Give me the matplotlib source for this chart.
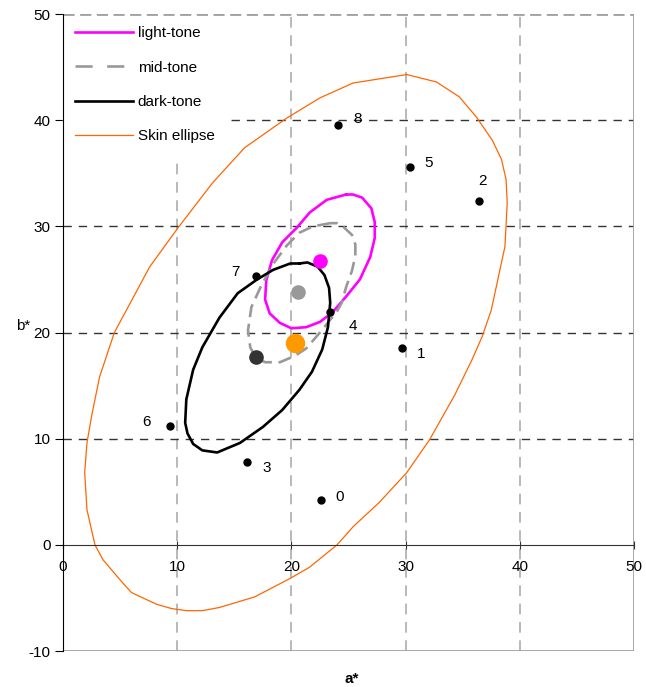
import matplotlib
matplotlib.use("Agg")
import matplotlib.pyplot as plt
from matplotlib.lines import Line2D

plt.rcParams['font.family'] = ['Liberation Sans', 'DejaVu Sans']
plt.rcParams['font.size'] = 11
plt.rcParams['axes.unicode_minus'] = False

# samples (a*, b*) and their labels
pt_a = [22.6, 29.7, 36.4, 16.1, 23.4, 30.4, 9.4, 16.9, 24.1]
pt_b = [4.2, 18.5, 32.4, 7.8, 21.9, 35.6, 11.2, 25.3, 39.5]
pt_lab = ["0", "1", "2", "3", "4", "5", "6", "7", "8"]

# skin ellipse outline
skin_a = [30.1, 25.4, 22.5, 19.6, 15.9, 13.1, 10.1, 7.6, 5.9, 4.5, 3.2, 2.5, 2.1, 1.9,
          2.1, 2.8, 3.5, 5.0, 6.0, 8.2, 9.5, 10.8, 12.2, 13.7, 16.8, 20.0, 21.6, 24.0,
          25.4, 27.7, 30.1, 32.1, 34.3, 35.8, 36.7, 37.5, 38.2, 38.7, 38.9, 38.8, 38.4,
          37.6, 36.2, 34.7, 32.7, 30.1]
skin_b = [44.3, 43.5, 42.1, 40.2, 37.4, 34.1, 29.9, 26.2, 22.8, 20.0, 15.8, 12.1, 9.6, 6.8,
          3.3, 0.0, -1.4, -3.3, -4.5, -5.6, -6.0, -6.2, -6.2, -5.9, -4.9, -3.1, -2.1, 0.0,
          1.7, 4.0, 6.8, 9.9, 14.1, 17.4, 19.6, 22.1, 25.6, 28.1, 32.2, 34.4, 36.3,
          38.1, 40.3, 42.2, 43.6, 44.3]

# light-tone ellipse
light_a = [24.8, 23.1, 21.6, 20.5, 19.2, 18.3, 17.8, 17.7, 18.1, 19.0, 20.0, 21.3,
           22.5, 23.6, 24.8, 26.0, 26.9, 27.3, 27.3, 27.0, 26.2, 25.4, 24.8]
light_b = [33.0, 32.5, 31.3, 29.9, 28.5, 26.8, 24.9, 23.1, 21.8, 20.9, 20.4, 20.5,
           21.0, 21.9, 23.4, 25.0, 27.1, 28.9, 30.4, 31.7, 32.7, 33.0, 33.0]

# mid-tone ellipse
mid_a = [23.4, 21.9, 20.7, 19.6, 18.5, 17.4, 16.5, 16.2, 16.4, 16.9, 17.7, 19.0, 20.3,
         21.3, 22.5, 23.4, 24.0, 24.4, 24.8, 25.3, 25.6, 25.6, 25.3, 24.6, 24.0, 23.4]
mid_b = [30.3, 30.0, 29.4, 28.2, 26.6, 24.5, 22.4, 20.2, 18.6, 17.6, 17.2, 17.2, 17.8,
         18.5, 20.0, 21.2, 22.0, 22.8, 24.3, 25.8, 27.2, 28.3, 29.2, 29.9, 30.3, 30.3]

# dark-tone ellipse
dark_a = [20.7, 19.9, 18.4, 17.0, 15.3, 13.7, 12.2, 11.4, 10.8, 10.7, 10.9, 11.4, 12.2,
          13.5, 15.5, 17.5, 19.2, 20.7, 21.8, 22.7, 23.2, 23.4, 23.3, 22.9, 22.3, 21.4, 20.7]
dark_b = [26.5, 26.5, 25.9, 25.0, 23.7, 21.4, 18.6, 16.5, 13.7, 11.5, 10.5, 9.5, 8.9,
          8.7, 9.6, 11.1, 12.7, 14.6, 16.3, 18.4, 20.5, 22.8, 24.2, 25.4, 26.2, 26.6, 26.5]

# ellipse centres: light, mid, dark, skin
cen_a = [22.5, 20.6, 16.9, 20.3]
cen_b = [26.7, 23.8, 17.7, 19.0]

XTICKS = [0, 10, 20, 30, 40, 50]
YTICKS = [-10, 0, 10, 20, 30, 40, 50]

fig = plt.figure(figsize=(6.46, 6.87), dpi=100)
ax = fig.add_axes([0.0975, 0.0524, 0.8839, 0.9272])
ax.set_xlim(0, 50)
ax.set_ylim(-10, 50)

# grid / frame
for v in XTICKS[1:-1]:
    ax.axvline(v, color="#a6a6a6", lw=1.1, dashes=(7, 5), zorder=0)
for h in YTICKS[2:-1]:
    ax.axhline(h, color="#333333", lw=1.0, dashes=(6, 5), zorder=0)
ax.axhline(50, color="#a0a0a0", lw=2.0, dashes=(4, 2), zorder=8)
ax.axhline(-10, color="#a0a0a0", lw=2.0, zorder=0)
ax.axvline(50, color="#a0a0a0", lw=2.0, zorder=0)

ax.plot(skin_a, skin_b, color="#ff6600", lw=0.9, zorder=2)
ax.plot(light_a, light_b, color="#ff00ff", lw=1.9, zorder=3)
ax.plot(mid_a, mid_b, color="#999999", lw=1.9, dashes=(5, 2.5), zorder=3)
ax.plot(dark_a, dark_b, color="black", lw=1.9, zorder=3)

ax.plot(pt_a, pt_b, "o", color="black", ms=5, zorder=4)
offs = [(13, 2), (14, -4), (3, 14), (14, -4), (16, -10), (13, 3), (-17, 3), (-15, 3), (14, 5)]
for a, b, t, o in zip(pt_a, pt_b, pt_lab, offs):
    ax.annotate(t, (a, b), xytext=o, textcoords="offset points", ha="center",
                va="center", fontsize=11)

ax.plot(cen_a[0], cen_b[0], "o", color="#ff00ff", ms=9.5, zorder=5)
ax.plot(cen_a[1], cen_b[1], "o", color="#999999", ms=9.5, zorder=5)
ax.plot(cen_a[2], cen_b[2], "o", color="#333333", ms=9.5, zorder=5)
ax.plot(cen_a[3], cen_b[3], "o", color="#ff9900", ms=13, zorder=5)

# axes: y on the left, x crossing at b*=0
for s in ["top", "right"]:
    ax.spines[s].set_visible(False)
ax.spines["left"].set_color("black")
ax.spines["left"].set_zorder(8)
ax.spines["bottom"].set_position(("data", 0))
ax.spines["bottom"].set_color("#333333")
ax.set_xticks(XTICKS)
ax.set_yticks(YTICKS)
ax.tick_params(axis="y", direction="out", length=6, pad=3, labelsize=11)
ax.tick_params(axis="x", direction="inout", length=6, pad=8, labelsize=11, color="#333333")

handles = [Line2D([], [], color="#ff00ff", lw=1.9),
           Line2D([], [], color="#999999", lw=1.9, dashes=(6.5, 5.5)),
           Line2D([], [], color="black", lw=1.9),
           Line2D([], [], color="#ff6600", lw=0.9)]
leg = ax.legend(handles, ["light-tone", "mid-tone", "dark-tone", "Skin ellipse"],
                loc="upper left", bbox_to_anchor=(0, 1), borderaxespad=0,
                borderpad=0.8, handlelength=3.8, handletextpad=0.3, labelspacing=1.33,
                fontsize=11, frameon=True, fancybox=False, framealpha=1)
leg.get_frame().set_edgecolor("white")
leg.get_frame().set_facecolor("white")
leg.set_zorder(6)

fig.text(23 / 646, 1 - 326 / 687, "b*", ha="center", va="center", fontsize=11)
fig.text(352 / 646, 1 - 679 / 687, "a*", ha="center", va="center", fontsize=11,
         fontweight="bold")

fig.savefig("out.png", dpi=100)
